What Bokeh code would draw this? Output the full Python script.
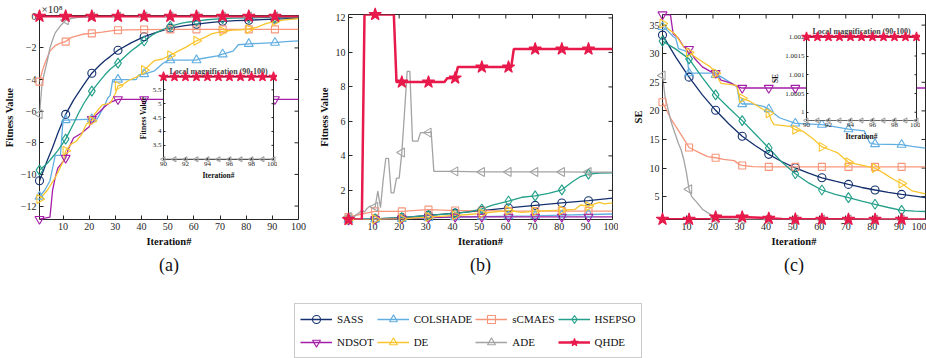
import math
from bokeh.plotting import figure
from bokeh.models import (Range1d, FixedTicker, Legend, LegendItem, Title, NumeralTickFormatter)
from bokeh.layouts import row, column
from bokeh.embed import file_html
from bokeh.resources import INLINE

SERIF = "Liberation Serif"
AX = "#262626"

ALGOS = ["SASS", "COLSHADE", "sCMAES", "HSEPSO", "NDSOT", "DE", "ADE", "QHDE"]
COLORS = {"SASS": "#14306e", "COLSHADE": "#62aee1", "sCMAES": "#f7957a", "HSEPSO": "#24a08a",
          "NDSOT": "#a41ea8", "DE": "#f9c52e", "ADE": "#a3a3a3", "QHDE": "#e8194b"}
MARKERS = {"SASS": "circle", "COLSHADE": "triangle", "sCMAES": "square", "HSEPSO": "diamond",
           "NDSOT": "inverted_triangle", "DE": "triangle", "ADE": "triangle", "QHDE": "star"}
ANGLES = {"SASS": 0, "COLSHADE": 0, "sCMAES": 0, "HSEPSO": 0, "NDSOT": 0,
          "DE": -math.pi / 2, "ADE": math.pi / 2, "QHDE": 0}
SIZES = {"SASS": 8, "COLSHADE": 9, "sCMAES": 7, "HSEPSO": 10, "NDSOT": 9, "DE": 9, "ADE": 9, "QHDE": 13}
WIDTHS = {"SASS": 1.3, "COLSHADE": 1.3, "sCMAES": 1.3, "HSEPSO": 1.3, "NDSOT": 1.3, "DE": 1.3,
          "ADE": 1.3, "QHDE": 2.5}

ITER_TICKS = [10, 20, 30, 40, 50, 60, 70, 80, 90, 100]
MARK_ITERS = [1, 11, 21, 31, 41, 51, 61, 71, 81, 91]
A_YTICKS = [-12, -10, -8, -6, -4, -2, 0]
B_YTICKS = [2, 4, 6, 8, 10, 12]
C_YTICKS = [5, 10, 15, 20, 25, 30, 35]
INSET_XTICKS = [90, 92, 94, 96, 98, 100]
INSA_YTICKS = [3.5, 4, 4.5, 5, 5.5]
INSC_YTICKS = [1, 1.0005, 1.001, 1.0015, 1.002]

# ---------------- panel (a): Fitness Value (x1e8) ----------------
a_SASS_it = [1, 4, 6, 8, 11, 14, 16, 18, 21, 24, 26, 28, 31, 36, 41, 46, 51, 56, 61, 66, 71, 76, 81, 86, 91, 96, 100]
a_SASS_v = [-10.4, -9.1, -8.3, -7.4, -6.2, -5.3, -4.8, -4.3, -3.6, -3.1, -2.8, -2.55, -2.15, -1.68, -1.29, -1.0,
            -0.75, -0.6, -0.5, -0.4, -0.32, -0.28, -0.25, -0.21, -0.18, -0.15, -0.13]
a_COLSHADE_it = [1, 3, 5, 6, 7, 9, 10, 11, 21, 23, 24, 26, 27, 28, 29, 31, 38, 39, 41, 45, 48, 50, 51, 61, 62, 69,
                 71, 75, 77, 81, 91, 95, 100]
a_COLSHADE_v = [-11.4, -11.0, -10.4, -9.6, -8.8, -8.8, -6.56, -6.56, -6.5, -6.5, -6.2, -5.6, -5.2, -5.0, -4.0, -4.0,
                -4.0, -3.7, -3.65, -3.45, -3.0, -2.8, -2.77, -2.77, -2.7, -2.5, -2.4, -2.2, -1.8, -1.74, -1.67,
                -1.6, -1.56]
a_sCMAES_it = [1, 2, 3, 5, 7, 9, 11, 13, 15, 18, 21, 25, 27, 29, 31, 35, 41, 51, 61, 71, 81, 91, 100]
a_sCMAES_v = [-4.13, -3.5, -3.0, -2.2, -1.85, -1.7, -1.6, -1.35, -1.25, -1.12, -1.08, -1.0, -0.95, -0.9, -0.88,
              -0.86, -0.84, -0.83, -0.83, -0.83, -0.83, -0.83, -0.83]
a_HSEPSO_it = [1, 4, 6, 8, 11, 14, 16, 18, 21, 24, 26, 28, 31, 34, 36, 38, 41, 44, 46, 48, 51, 55, 58, 61, 65, 71,
               75, 81, 85, 91, 100]
a_HSEPSO_v = [-9.73, -9.3, -8.9, -8.5, -7.77, -6.8, -6.1, -5.5, -4.73, -4.1, -3.7, -3.35, -2.96, -2.5, -2.2, -1.95,
              -1.56, -1.2, -1.0, -0.85, -0.63, -0.45, -0.36, -0.3, -0.22, -0.15, -0.12, -0.1, -0.09, -0.08, -0.07]
a_NDSOT_it = [1, 5, 6, 7, 8, 10, 11, 12, 14, 17, 20, 21, 24, 26, 28, 31, 41, 51, 61, 71, 81, 91, 100]
a_NDSOT_v = [-12.82, -12.7, -11.0, -10.2, -9.6, -9.2, -8.96, -8.4, -7.7, -7.4, -6.98, -6.5, -6.04, -5.7, -5.45,
             -5.25, -5.25, -5.25, -5.25, -5.25, -5.25, -5.25, -5.25]
a_DE_it = [1, 4, 7, 10, 11, 13, 15, 17, 19, 21, 22, 24, 25, 28, 30, 31, 33, 35, 38, 40, 41, 43, 45, 48, 51, 54, 57,
           61, 64, 67, 71, 75, 78, 81, 84, 87, 91, 95, 100]
a_DE_v = [-11.56, -11.0, -10.2, -9.2, -8.5, -8.1, -7.9, -7.5, -6.8, -6.6, -6.2, -5.8, -5.6, -5.5, -4.9, -4.4, -4.3,
          -4.06, -3.85, -3.65, -3.4, -3.1, -2.8, -2.7, -2.46, -2.2, -1.95, -1.55, -1.35, -1.1, -0.95, -0.88, -0.85,
          -0.8, -0.7, -0.5, -0.31, -0.22, -0.15]
a_ADE_it = [1, 2, 3, 4, 5, 6, 7, 9, 11, 13, 15, 18, 21, 31, 41, 51, 61, 71, 81, 91, 100]
a_ADE_v = [-6.2, -4.2, -3.5, -2.8, -2.0, -1.5, -1.05, -0.6, -0.25, -0.15, -0.08, -0.03, -0.02, -0.01, -0.01, -0.01,
           -0.01, -0.01, -0.01, -0.01, -0.01]
a_QHDE_it = [1, 11, 21, 31, 41, 51, 61, 71, 81, 91, 100]
a_QHDE_v = [0, 0, 0, 0, 0, 0, 0, 0, 0, 0, 0]

# ---------------- panel (b): Fitness Value ----------------
b_SASS_it = [1, 11, 21, 31, 41, 51, 61, 71, 81, 91, 100]
b_SASS_v = [0.3, 0.35, 0.42, 0.55, 0.68, 0.83, 0.98, 1.13, 1.27, 1.4, 1.55]
b_COLSHADE_it = [1, 11, 21, 31, 41, 51, 61, 71, 81, 91, 100]
b_COLSHADE_v = [0.3, 0.32, 0.35, 0.4, 0.45, 0.48, 0.5, 0.52, 0.56, 0.6, 0.63]
b_sCMAES_it = [1, 5, 8, 11, 16, 21, 25, 31, 41, 51, 61, 71, 81, 91, 100]
b_sCMAES_v = [0.45, 0.6, 0.7, 0.78, 0.78, 0.78, 0.83, 0.88, 0.83, 0.82, 0.8, 0.8, 0.8, 0.8, 0.8]
b_HSEPSO_it = [1, 11, 21, 31, 41, 46, 51, 55, 61, 66, 71, 76, 81, 85, 88, 91, 95, 100]
b_HSEPSO_v = [0.3, 0.35, 0.42, 0.55, 0.67, 0.75, 0.92, 1.15, 1.38, 1.6, 1.68, 1.82, 2.03, 2.5, 2.8, 2.94, 3.0, 3.02]
b_NDSOT_it = [1, 11, 21, 31, 41, 51, 61, 71, 81, 91, 100]
b_NDSOT_v = [0.3, 0.32, 0.36, 0.42, 0.46, 0.46, 0.46, 0.46, 0.46, 0.46, 0.46]
b_DE_it = [1, 11, 21, 31, 41, 46, 51, 56, 61, 66, 71, 76, 81, 86, 88, 91, 95, 97, 100]
b_DE_v = [0.3, 0.32, 0.35, 0.45, 0.55, 0.6, 0.66, 0.75, 0.83, 0.72, 0.78, 0.82, 0.85, 0.9, 1.15, 1.08, 1.3, 1.22, 1.27]
b_ADE_it = [1, 2, 3, 4, 5, 6, 7, 8, 9, 10, 11, 12, 13, 14, 15, 16, 17, 18, 19, 20, 21, 22, 23, 24, 25, 26, 27, 28,
            29, 30, 31, 32, 33, 41, 51, 61, 71, 81, 91, 100]
b_ADE_v = [0.45, 0.5, 0.45, 0.6, 0.7, 0.85, 0.75, 0.95, 1.1, 0.95, 1.05, 1.95, 1.0, 2.6, 3.86, 3.86, 1.85, 1.85,
           2.71, 2.71, 4.2, 6.5, 8.9, 8.9, 4.85, 4.85, 4.85, 5.35, 5.35, 5.35, 5.35, 5.4, 3.1, 3.1, 3.07, 3.07,
           3.07, 3.07, 3.06, 3.05]
b_QHDE_it = [1, 6, 7, 11, 18, 19, 21, 31, 37, 38, 41, 42, 51, 61, 62, 63, 71, 81, 91, 100]
b_QHDE_v = [0.31, 0.31, 12.2, 12.2, 12.2, 8.28, 8.28, 8.28, 8.28, 8.5, 8.52, 9.15, 9.15, 9.15, 9.15, 10.2, 10.2,
            10.2, 10.2, 10.2]

# ---------------- panel (c): SE ----------------
c_SASS_it = [1, 6, 11, 16, 21, 26, 31, 36, 41, 46, 51, 56, 61, 66, 71, 76, 81, 86, 91, 96, 100]
c_SASS_v = [33.26, 29.4, 25.9, 22.8, 20.1, 17.7, 15.56, 13.9, 12.4, 11.1, 10.04, 9.1, 8.3, 7.7, 7.14, 6.6, 6.16,
            5.75, 5.4, 5.1, 4.82]
c_COLSHADE_it = [1, 3, 5, 6, 7, 10, 11, 20, 21, 23, 28, 29, 30, 31, 35, 39, 41, 45, 50, 51, 61, 65, 71, 77, 79, 81,
                 91, 95, 100]
c_COLSHADE_v = [34.7, 34.0, 33.0, 32.7, 30.9, 30.4, 26.6, 26.6, 26.3, 26.0, 24.5, 24.3, 21.6, 21.2, 21.2, 20.8,
                20.3, 18.8, 18.0, 17.8, 17.6, 17.3, 16.8, 16.5, 14.4, 14.2, 14.1, 13.8, 13.5]
c_sCMAES_it = [1, 4, 8, 11, 15, 18, 21, 24, 28, 30, 31, 35, 41, 51, 61, 71, 81, 91, 100]
c_sCMAES_v = [21.5, 18.75, 15.85, 13.6, 12.65, 12.0, 11.8, 11.5, 11.3, 10.6, 10.45, 10.25, 10.2, 10.2, 10.2, 10.2,
              10.2, 10.2, 10.2]
c_HSEPSO_it = [1, 6, 11, 16, 21, 26, 31, 36, 41, 46, 51, 56, 61, 66, 71, 76, 81, 86, 91, 96, 100]
c_HSEPSO_v = [32.2, 30.8, 29.1, 25.8, 22.8, 20.5, 18.3, 15.9, 13.5, 11.0, 9.0, 7.4, 6.16, 5.4, 4.82, 4.2, 3.66, 3.1,
              2.6, 2.45, 2.4]
c_NDSOT_it = [1, 4, 5, 7, 9, 11, 13, 16, 19, 21, 23, 25, 27, 29, 31, 41, 51, 61, 71, 81, 91, 100]
c_NDSOT_v = [36.86, 36.8, 33.5, 32.7, 31.2, 30.8, 29.2, 27.7, 26.9, 26.6, 25.4, 25.1, 24.8, 24.3, 24.0, 24.0, 24.0,
             24.0, 24.0, 24.0, 24.0, 24.0]
c_DE_it = [1, 3, 6, 8, 11, 14, 16, 19, 21, 23, 27, 29, 30, 31, 34, 38, 41, 42, 43, 49, 51, 54, 58, 61, 64, 67, 71,
           75, 78, 81, 85, 88, 91, 95, 100]
c_DE_v = [35.3, 34.4, 33.3, 31.8, 30.2, 29.2, 28.6, 27.7, 26.6, 24.8, 24.6, 24.4, 22.4, 22.2, 21.65, 20.5, 19.6,
          18.3, 17.6, 17.3, 16.7, 16.4, 15.0, 13.7, 13.2, 12.65, 11.0, 10.6, 10.3, 10.0, 8.9, 8.0, 7.3, 6.0, 5.5]
c_ADE_it = [1, 2, 3, 4, 5, 7, 8, 9, 10, 11, 12, 14, 16, 19, 21, 31, 41, 51, 61, 71, 81, 91, 100]
c_ADE_v = [26.2, 22.3, 20.5, 18.5, 17.0, 14.3, 13.2, 11.5, 9.2, 6.3, 5.0, 3.95, 2.8, 1.9, 1.1, 1.0, 1.0, 1.0, 1.0,
           1.0, 1.0, 1.0, 1.0]
c_QHDE_it = [1, 11, 19, 20, 21, 31, 38, 41, 46, 51, 61, 71, 81, 91, 100]
c_QHDE_v = [1.03, 1.03, 1.03, 1.4, 1.42, 1.42, 1.3, 1.2, 1.1, 1.05, 1.03, 1.03, 1.02, 1.02, 1.02]

# ---------------- insets: local magnification (90-100) ----------------
ins_it = [90, 91, 92, 93, 94, 95, 96, 97, 98, 99, 100]
insA_QHDE = [5.97, 5.97, 5.97, 5.97, 5.97, 5.97, 5.97, 5.97, 5.97, 5.97, 5.97]
insA_ADE = [3.0, 3.0, 3.0, 3.0, 3.0, 3.0, 3.0, 3.0, 3.0, 3.0, 3.0]
insC_QHDE = [1.00201, 1.00201, 1.00201, 1.00201, 1.00201, 1.00201, 1.00201, 1.00201, 1.00201, 1.00201, 1.00201]
insC_ADE = [0.99978, 0.99978, 0.99978, 0.99978, 0.99978, 0.99978, 0.99978, 0.99978, 0.99978, 0.99978, 0.99978]

A_DATA = {"SASS": (a_SASS_it, a_SASS_v), "COLSHADE": (a_COLSHADE_it, a_COLSHADE_v),
          "sCMAES": (a_sCMAES_it, a_sCMAES_v), "HSEPSO": (a_HSEPSO_it, a_HSEPSO_v),
          "NDSOT": (a_NDSOT_it, a_NDSOT_v), "DE": (a_DE_it, a_DE_v), "ADE": (a_ADE_it, a_ADE_v),
          "QHDE": (a_QHDE_it, a_QHDE_v)}
B_DATA = {"SASS": (b_SASS_it, b_SASS_v), "COLSHADE": (b_COLSHADE_it, b_COLSHADE_v),
          "sCMAES": (b_sCMAES_it, b_sCMAES_v), "HSEPSO": (b_HSEPSO_it, b_HSEPSO_v),
          "NDSOT": (b_NDSOT_it, b_NDSOT_v), "DE": (b_DE_it, b_DE_v), "ADE": (b_ADE_it, b_ADE_v),
          "QHDE": (b_QHDE_it, b_QHDE_v)}
C_DATA = {"SASS": (c_SASS_it, c_SASS_v), "COLSHADE": (c_COLSHADE_it, c_COLSHADE_v),
          "sCMAES": (c_sCMAES_it, c_sCMAES_v), "HSEPSO": (c_HSEPSO_it, c_HSEPSO_v),
          "NDSOT": (c_NDSOT_it, c_NDSOT_v), "DE": (c_DE_it, c_DE_v), "ADE": (c_ADE_it, c_ADE_v),
          "QHDE": (c_QHDE_it, c_QHDE_v)}


def style_axis(ax, font_px, label_px, tick_in, standoff):
    ax.axis_line_color = None
    ax.major_tick_in = tick_in
    ax.major_tick_out = 0
    ax.major_tick_line_color = AX
    ax.minor_tick_line_color = None
    ax.major_label_text_font = SERIF
    ax.major_label_text_font_size = font_px
    ax.major_label_text_color = AX
    ax.major_label_standoff = standoff
    ax.axis_label_standoff = standoff
    ax.axis_label_text_font = SERIF
    ax.axis_label_text_font_size = label_px
    ax.axis_label_text_font_style = "bold"
    ax.axis_label_text_color = "#111111"


def add_box_ticks(p, xticks, yticks, xr, yr, size):
    # inward tick marks on the top and right edges of the box (half clipped by the frame)
    p.scatter(xticks, [yr[1]] * len(xticks), marker="dash", angle=math.pi / 2, size=size,
              line_color=AX, line_width=1)
    p.scatter([xr[1]] * len(yticks), yticks, marker="dash", size=size, line_color=AX, line_width=1)


def draw_series(p, it, v, algo, every=False, size=None, lw=None):
    col = COLORS[algo]
    p.line(it, v, line_color=col, line_width=lw if lw else WIDTHS[algo])
    if every:
        mi, mv = it, v
    else:
        mi = [x for x in it if x in MARK_ITERS]
        mv = [y for x, y in zip(it, v) if x in MARK_ITERS]
    fill = col if algo == "QHDE" else None
    p.scatter(mi, mv, marker=MARKERS[algo], size=size if size else SIZES[algo], angle=ANGLES[algo],
              line_color=col, fill_color=fill, line_width=1.1, level="overlay")


def make_panel(data, yr, yticks, ylabel, w, bl, br, caption, top_note=""):
    xr = (1, 100)
    p = figure(width=w, height=290, x_range=Range1d(*xr), y_range=Range1d(*yr),
               toolbar_location=None, output_backend="svg", frame_align=False,
               min_border_left=bl, min_border_right=br, min_border_top=14, min_border_bottom=71)
    p.title.text = top_note
    p.title.align = "left"
    p.title.offset = 2
    p.title.standoff = 1
    p.title.text_font = SERIF
    p.title.text_font_size = "11px"
    p.title.text_font_style = "normal"
    p.title.text_color = AX
    p.grid.visible = False
    p.outline_line_color = AX
    p.outline_line_width = 1
    p.xaxis.ticker = FixedTicker(ticks=ITER_TICKS)
    p.yaxis.ticker = FixedTicker(ticks=yticks)
    style_axis(p.xaxis[0], "10px", "10.5px", 4, 3)
    style_axis(p.yaxis[0], "10px", "10.5px", 4, 3)
    p.xaxis.axis_label = "Iteration#"
    p.yaxis.axis_label = ylabel
    add_box_ticks(p, ITER_TICKS, yticks, xr, yr, 8)
    for algo in ALGOS:
        it, v = data[algo]
        draw_series(p, it, v, algo)
    p.add_layout(Title(text=caption, align="center", text_font_size="18px", text_font=SERIF,
                       text_font_style="normal", text_color="#111111", offset=-10, standoff=6), "below")
    return p


def make_inset(yr, yticks, ylabel, fmt, q_data, a_data, fw, fh, bl, left, top):
    xr = (90, 100)
    q = figure(width=bl + fw + 4, height=12 + fh + 24, x_range=Range1d(*xr), y_range=Range1d(*yr),
               toolbar_location=None, output_backend="svg", title="Local magnification (90-100)",
               frame_align=False,
               min_border_left=bl, min_border_right=4, min_border_top=12, min_border_bottom=24)
    q.border_fill_alpha = 0
    q.background_fill_color = "white"
    q.grid.visible = False
    q.outline_line_color = AX
    q.title.text_font = SERIF
    q.title.text_font_size = "8px"
    q.title.text_font_style = "bold"
    q.title.align = "center"
    q.title.standoff = 1
    q.xaxis.ticker = FixedTicker(ticks=INSET_XTICKS)
    q.yaxis.ticker = FixedTicker(ticks=yticks)
    q.yaxis.formatter = NumeralTickFormatter(format=fmt)
    style_axis(q.xaxis[0], "7px", "7.5px", 2, 2)
    style_axis(q.yaxis[0], "7px", "7.5px", 2, 2)
    q.xaxis.axis_label = "Iteration#"
    q.yaxis.axis_label = ylabel
    add_box_ticks(q, INSET_XTICKS, yticks, xr, yr, 4)
    draw_series(q, ins_it, a_data, "ADE", every=True, size=5, lw=1.2)
    draw_series(q, ins_it, q_data, "QHDE", every=True, size=10, lw=2.0)
    q.styles = {"position": "absolute", "left": f"{left}px", "top": f"{top}px", "z-index": "5"}
    return q


pa = make_panel(A_DATA, (-12.85, 0.05), A_YTICKS, "Fitness Value", 311, 37, 13, "(a)", top_note="×10⁸")
pb = make_panel(B_DATA, (0.31, 12.2), B_YTICKS, "Fitness Value", 307, 37, 6, "(b)")
pc = make_panel(C_DATA, (1.0, 36.86), C_YTICKS, "SE", 308, 44, 1, "(c)")

ins_a = make_inset((2.99, 5.98), INSA_YTICKS, "Fitness Value", "0.[0]", insA_QHDE, insA_ADE,
                   112, 83, 26, 161 - 26, 76 - 12)
ins_c = make_inset((0.99978, 1.00202), INSC_YTICKS, "SE", "0.[0000]", insC_QHDE, insC_ADE,
                   110, 84, 40, 806 - 40, 36 - 12)

# legend (its renderers hold the panel-(b) series, kept outside the legend canvas range)
leg = figure(width=926, height=68, toolbar_location=None, output_backend="svg", frame_align=False,
             x_range=Range1d(-20, -10), y_range=Range1d(-20, -10), x_axis_type=None, y_axis_type=None,
             min_border=0, min_border_left=0, min_border_right=0, min_border_top=0, min_border_bottom=0)
leg.grid.visible = False
leg.outline_line_color = None
items = []
for algo in ALGOS:
    it, v = B_DATA[algo]
    lr = leg.line(it, v, line_color=COLORS[algo], line_width=WIDTHS[algo])
    sr = leg.scatter(it[:1], v[:1], marker=MARKERS[algo], size=SIZES[algo] if algo != "QHDE" else 14,
                     angle=ANGLES[algo], line_color=COLORS[algo],
                     fill_color=COLORS[algo] if algo == "QHDE" else None, line_width=1.1)
    items.append(LegendItem(label=algo, renderers=[lr, sr]))
legend = Legend(items=items, ncols=4, orientation="horizontal", location=(294, 0),
                label_text_font=SERIF, label_text_font_size="11px", label_text_color="#111111",
                glyph_width=32, glyph_height=20, label_height=20, label_standoff=5, spacing=3, padding=5,
                margin=0, border_line_color="#9a9a9a", border_line_width=1, click_policy="none")
leg.add_layout(legend, "center")

root = column(row(pa, pb, pc), leg, ins_a, ins_c)
root.styles = {"position": "relative"}

open("out.html", "w").write(file_html(root, INLINE))
